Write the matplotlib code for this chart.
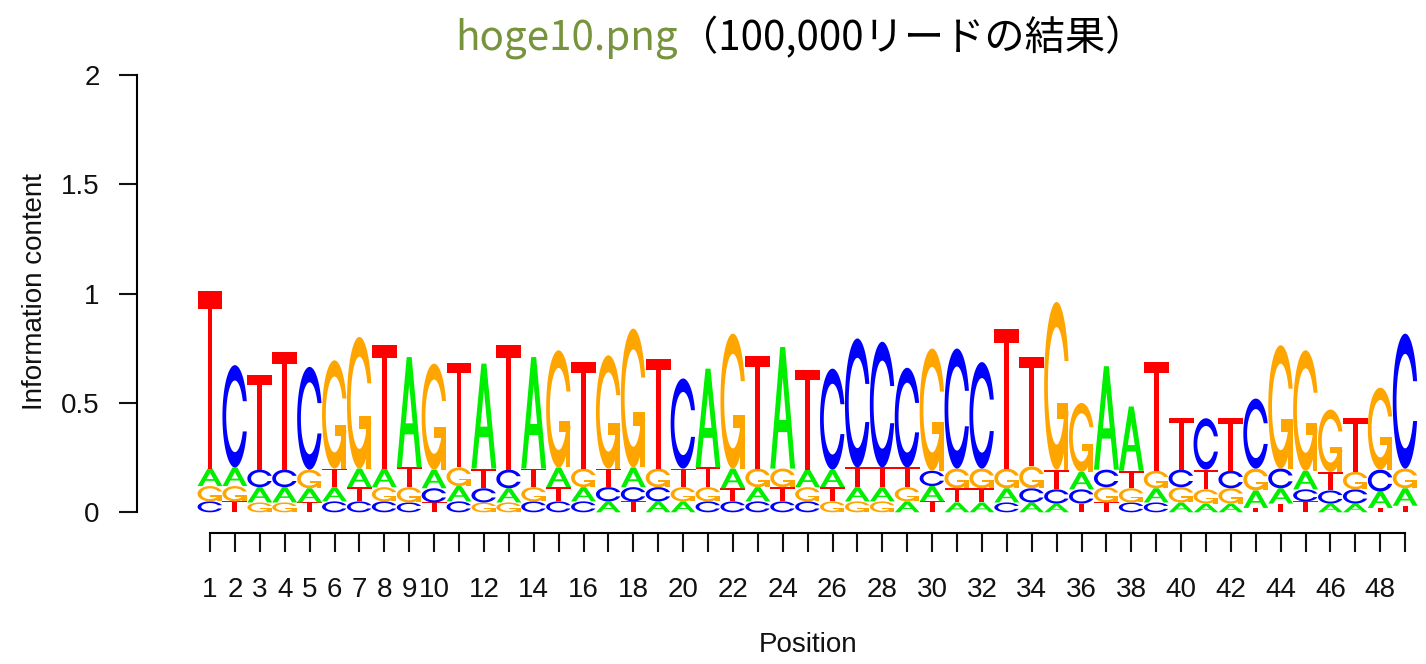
import matplotlib
matplotlib.use("Agg")
import numpy as np
import matplotlib.pyplot as plt
from matplotlib.patches import Polygon

plt.rcParams['font.family'] = ['Liberation Sans', 'DejaVu Sans']

positions = list(range(1, 50))
consensus = "TCTTCGGTAGTATAGTGGTCAGTATCCCCGCCTTGGAATTCTCGGGTGC"

# information content (height of each stack)
stack_top = [1.01, 0.673, 0.627, 0.733, 0.665, 0.695, 0.802, 0.764, 0.71, 0.68,
             0.683, 0.68, 0.764, 0.71, 0.741, 0.687, 0.718, 0.84, 0.70, 0.612,
             0.657, 0.817, 0.715, 0.756, 0.65, 0.657, 0.795, 0.78, 0.661, 0.749,
             0.749, 0.687, 0.84, 0.71, 0.962, 0.50, 0.668, 0.484, 0.687, 0.43,
             0.43, 0.43, 0.52, 0.764, 0.741, 0.47, 0.43, 0.57, 0.817]

# the other three bases at each position, largest first
minor_bases = ["AGC", "AGT", "CAG", "CAG", "GAT", "TAC", "ATC", "AGC", "TGC", "ACT",
               "GAC", "TCG", "CAG", "TGC", "ATC", "GAC", "TCA", "ACT", "GCA", "TGA",
               "TGC", "ATC", "GAC", "GTC", "AGC", "ATG", "TAG", "TAG", "TGA", "CAT",
               "GTA", "GTA", "GAC", "GCA", "TCA", "ACT", "CGT", "TGC", "GAC", "CGA",
               "TGA", "CGA", "GAT", "CAT", "ACT", "TCA", "GCA", "CAT", "GAT"]
minor_h1 = [0.08, 0.085, 0.08, 0.08, 0.085, 0.085, 0.085, 0.085, 0.09, 0.085,
            0.085, 0.09, 0.085, 0.085, 0.09, 0.085, 0.085, 0.09, 0.085, 0.085,
            0.09, 0.09, 0.085, 0.085, 0.08, 0.08, 0.09, 0.09, 0.09, 0.07,
            0.09, 0.09, 0.09, 0.10, 0.09, 0.08, 0.08, 0.08, 0.08, 0.08,
            0.09, 0.08, 0.10, 0.09, 0.085, 0.085, 0.08, 0.10, 0.09]
minor_h2 = [0.07, 0.07, 0.07, 0.07, 0.065, 0.065, 0.065, 0.065, 0.07, 0.065,
            0.07, 0.065, 0.065, 0.065, 0.065, 0.065, 0.065, 0.065, 0.065, 0.065,
            0.065, 0.06, 0.065, 0.065, 0.065, 0.065, 0.065, 0.065, 0.065, 0.07,
            0.065, 0.065, 0.065, 0.065, 0.065, 0.065, 0.07, 0.065, 0.065, 0.07,
            0.065, 0.07, 0.08, 0.07, 0.055, 0.06, 0.065, 0.075, 0.08]
minor_h3 = [0.05, 0.05, 0.045, 0.045, 0.045, 0.05, 0.05, 0.05, 0.045, 0.045,
            0.05, 0.045, 0.045, 0.05, 0.05, 0.05, 0.05, 0.05, 0.05, 0.05,
            0.05, 0.05, 0.05, 0.05, 0.05, 0.05, 0.05, 0.05, 0.05, 0.05,
            0.045, 0.045, 0.045, 0.045, 0.04, 0.04, 0.045, 0.045, 0.045, 0.045,
            0.04, 0.04, 0.02, 0.04, 0.05, 0.04, 0.04, 0.02, 0.03]

base_colors = {'A': '#00EE00', 'C': '#0000FF', 'G': '#FFA500', 'T': '#FF0000'}


# letter outlines on a unit square (seqLogo style polygons)
def c_shape():
    a1 = np.linspace(0.3 + np.pi / 2, np.pi, 100)
    a2 = np.linspace(np.pi, 1.5 * np.pi, 100)
    xl = np.concatenate([0.5 + 0.5 * np.sin(a1), 0.5 + 0.5 * np.sin(a2)])
    yl = np.concatenate([0.5 + 0.5 * np.cos(a1), 0.5 + 0.5 * np.cos(a2)])
    cut = yl[0]
    x = np.concatenate([xl, xl[::-1]])
    y = np.concatenate([yl, 1 - yl[::-1]])
    xi1 = 0.5 + 0.35 * np.sin(a1)
    yi1 = 0.5 + 0.35 * np.cos(a1)
    keep = yi1 <= cut
    xi1, yi1 = xi1[keep], yi1[keep]
    yi1[0] = cut
    xi2 = 0.5 + 0.35 * np.sin(a2)
    yi2 = 0.5 + 0.35 * np.cos(a2)
    xi = np.concatenate([xi1, xi2])
    yi = np.concatenate([yi1, yi2])
    x1 = np.concatenate([xi, xi[::-1]])
    y1 = np.concatenate([yi, 1 - yi[::-1]])
    return np.column_stack([np.concatenate([x, x1[::-1]]),
                            np.concatenate([y, y1[::-1]])]), xl.max()


C_RING, R1 = c_shape()
SHAPES = {
    'T': [np.array([[0, 1], [1, 1], [1, 0.9], [0.6, 0.9], [0.6, 0],
                    [0.4, 0], [0.4, 0.9], [0, 0.9]])],
    'A': [np.array([[0, 0], [0.4, 1], [0.6, 1], [1, 0], [0.8, 0], [0.68, 0.3],
                    [0.32, 0.3], [0.2, 0]])],
    'C': [C_RING],
    'G': [C_RING, np.array([[R1, 0.4], [0.5, 0.4], [0.5, 0.3], [R1 - 0.2, 0.3],
                            [R1 - 0.2, 0], [R1, 0]])],
}
A_HOLE = np.array([[0.36, 0.4], [0.5, 0.75], [0.64, 0.4]])


def draw_letter(ax, base, xc, y0, h, w=1.0):
    if h <= 0:
        return
    for pts in SHAPES[base]:
        xy = np.column_stack([xc - w / 2 + pts[:, 0] * w, y0 + pts[:, 1] * h])
        ax.add_patch(Polygon(xy, closed=True, fc=base_colors[base], ec='none', lw=0))
    if base == 'A':
        xy = np.column_stack([xc - w / 2 + A_HOLE[:, 0] * w, y0 + A_HOLE[:, 1] * h])
        ax.add_patch(Polygon(xy, closed=True, fc='white', ec='none', lw=0))


W, H = 1426, 664
fig = plt.figure(figsize=(W / 100, H / 100), dpi=100)
ax = fig.add_axes([137 / W, (H - 533) / H, (W - 137) / W, (533 - 75) / H])

for i, p in enumerate(positions):
    hs = [minor_h3[i], minor_h2[i], minor_h1[i]]
    bs = minor_bases[i][::-1]
    y = 0.0
    for b, h in zip(bs, hs):
        draw_letter(ax, b, p, y, h)
        y += h
    draw_letter(ax, consensus[i], p, y, stack_top[i] - y)

ax.set_xlim(1 + (137 - 210) / 24.9, 1 + (W - 210) / 24.9)
ax.set_ylim(-(533 - 512.3) / 218.75, 2)

for s in ['top', 'right']:
    ax.spines[s].set_visible(False)
ax.spines['left'].set_bounds(0, 2)
ax.spines['bottom'].set_bounds(1, 49)
for s in ['left', 'bottom']:
    ax.spines[s].set_linewidth(1.5)

ax.set_yticks([0, 0.5, 1, 1.5, 2])
ax.set_yticklabels(['0', '0.5', '1', '1.5', '2'])
ax.set_xticks(positions)
ax.set_xticklabels([str(p) if (p <= 10 or p % 2 == 0) else '' for p in positions])
ax.tick_params(axis='x', length=13.5, width=1.5, pad=18, labelsize=20, colors='#111111')
ax.tick_params(axis='y', length=13, width=1.5, pad=14, labelsize=20, colors='#111111')

fig.text(35 / W, 1 - 292 / H, "Information content", rotation=90,
         ha='center', va='center', fontsize=20, color='#111111')
fig.text(808 / W, 1 - 645 / H, "Position", ha='center', va='center',
         fontsize=20, color='#111111')

# title in two colours
jp = ['Noto Sans CJK JP', 'DejaVu Sans']
t1 = fig.text(455 / W, 1 - 38 / H, "hoge10.png", ha='left', va='center',
              fontsize=29, color='#77933C', family=jp)
fig.canvas.draw()
bb = t1.get_window_extent()
fig.text(bb.x1 / W, 1 - 38 / H, "（100,000リードの結果）", ha='left', va='center',
         fontsize=29, color='black', family=jp)

fig.savefig("out.png", dpi=100)
